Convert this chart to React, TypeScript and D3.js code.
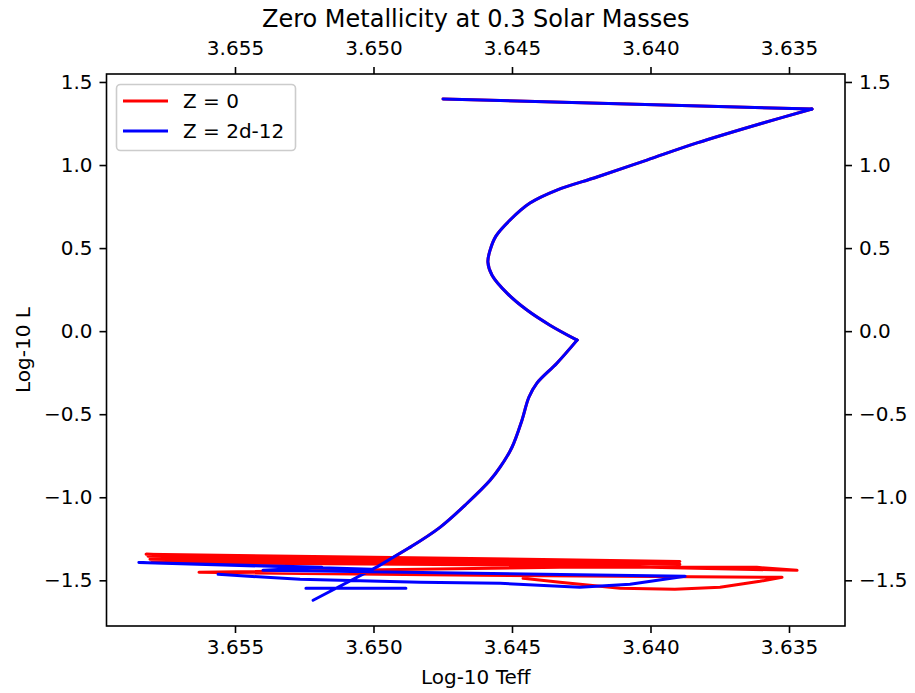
import React, { useEffect, useRef } from "react";
import * as d3 from "d3";

// shared pre-main-sequence descent (the Z = 0 track sits right under the blue one here)
const trackTeff = [3.64749, 3.63417, 3.63594, 3.63832, 3.64013, 3.64193, 3.64338, 3.64435, 3.64507, 3.64558, 3.64579, 3.64587, 3.64572, 3.64518, 3.64446, 3.64363, 3.64265, 3.64338, 3.6441, 3.64439, 3.64464, 3.645, 3.64543, 3.64579, 3.64662, 3.6476, 3.64868];
const trackLogL = [1.398, 1.337, 1.253, 1.133, 1.03, 0.928, 0.849, 0.771, 0.669, 0.572, 0.488, 0.416, 0.337, 0.229, 0.127, 0.036, -0.054, -0.193, -0.313, -0.398, -0.536, -0.699, -0.819, -0.898, -1.036, -1.181, -1.301];
// indexes where the track turns sharply (top tip, the kink near L = 0)
const trackCorners = [0, 1, 16, 26];

// Z = 0 wiggles near the main sequence
const z0TailTeff = [3.64958, 3.65821, 3.63894, 3.65814, 3.63894, 3.65807, 3.64182, 3.658, 3.64327, 3.63471, 3.63616, 3.64327, 3.6563, 3.64616, 3.63525, 3.63605, 3.63749, 3.63912, 3.6411, 3.64327, 3.6446];
const z0TailLogL = [-1.392, -1.343, -1.386, -1.355, -1.404, -1.373, -1.41, -1.392, -1.41, -1.44, -1.422, -1.422, -1.452, -1.47, -1.482, -1.506, -1.542, -1.554, -1.548, -1.512, -1.488];

// Z = 2d-12 bottom part
const z2TailTeff = [3.64984, 3.65218, 3.65135, 3.65244, 3.64883, 3.65135, 3.65005, 3.65847, 3.65186, 3.65399, 3.63875, 3.64074, 3.64255, 3.64543, 3.64832, 3.65265, 3.65561];
const z2TailLogL = [-1.416, -1.62, -1.548, -1.548, -1.548, -1.548, -1.434, -1.392, -1.422, -1.44, -1.476, -1.524, -1.542, -1.518, -1.512, -1.494, -1.464];

const xTicks = [3.655, 3.65, 3.645, 3.64, 3.635];
const yTicks = [-1.5, -1.0, -0.5, 0.0, 0.5, 1.0, 1.5];
const seriesNames = ["Z = 0", "Z = 2d-12"];
const seriesColors = ["#ff0000", "#0000ff"];

const W = 915;
const H = 693;
const FONT = "DejaVu Sans, sans-serif";

const App = () => {
  const svgRef = useRef<SVGSVGElement>(null);

  useEffect(() => {
    const svg = d3.select(svgRef.current);
    svg.selectAll("*").remove();

    const left = 106.5, right = 845, top = 74, bottom = 626;
    const x = d3.scaleLinear().domain([3.659639, 3.632978]).range([left, right]);
    const y = d3.scaleLinear().domain([-1.775, 1.548]).range([bottom, top]);

    const track = trackTeff.map((t, i) => [t, trackLogL[i]]);
    const tails = [
      z0TailTeff.map((t, i) => [t, z0TailLogL[i]]),
      z2TailTeff.map((t, i) => [t, z2TailLogL[i]]),
    ];

    const smooth = d3.line<number[]>().x((d) => x(d[0])).y((d) => y(d[1])).curve(d3.curveCatmullRom.alpha(0.5));
    const straight = d3.line<number[]>().x((d) => x(d[0])).y((d) => y(d[1]));

    seriesColors.forEach((color, s) => {
      const g = svg.append("g")
        .attr("fill", "none")
        .attr("stroke", color)
        .attr("stroke-width", 3)
        .attr("stroke-linejoin", "round")
        .attr("stroke-linecap", "round");
      // the smooth stretches of the descent between the corners
      for (let k = 0; k < trackCorners.length - 1; k++) {
        const a = trackCorners[k], b = trackCorners[k + 1];
        const part = track.slice(a, b + 1);
        g.append("path").attr("d", part.length > 2 ? smooth(part) : straight(part));
      }
      // jagged part near the main sequence
      g.append("path").attr("d", straight([track[track.length - 1], ...tails[s]]));
    });

    const styleAxis = (g) => {
      g.select(".domain").remove();
      g.selectAll(".tick line").attr("stroke", "#000").attr("stroke-width", 1.6);
      g.selectAll(".tick text").attr("fill", "#000").style("font-family", FONT).style("font-size", "20px");
    };

    const fx = d3.format(".3f");
    const fy = d3.format(".1f");

    svg.append("g").attr("transform", `translate(0,${bottom})`)
      .call(d3.axisBottom(x).tickValues(xTicks).tickFormat(fx).tickSize(7).tickPadding(7))
      .call(styleAxis);
    svg.append("g").attr("transform", `translate(0,${top})`)
      .call(d3.axisTop(x).tickValues(xTicks).tickFormat(fx).tickSize(7).tickPadding(7))
      .call(styleAxis)
      .selectAll(".tick text").attr("dy", "-0.24em");
    svg.append("g").attr("transform", `translate(${left},0)`)
      .call(d3.axisLeft(y).tickValues(yTicks).tickFormat(fy).tickSize(7).tickPadding(7))
      .call(styleAxis);
    svg.append("g").attr("transform", `translate(${right},0)`)
      .call(d3.axisRight(y).tickValues(yTicks).tickFormat(fy).tickSize(7).tickPadding(7))
      .call(styleAxis);

    svg.append("rect")
      .attr("x", left).attr("y", top)
      .attr("width", right - left).attr("height", bottom - top)
      .attr("fill", "none").attr("stroke", "#000").attr("stroke-width", 1.6);

    // titles
    svg.append("text")
      .attr("x", (left + right) / 2).attr("y", 27)
      .attr("text-anchor", "middle")
      .style("font-family", FONT).style("font-size", "24px")
      .text("Zero Metallicity at 0.3 Solar Masses");
    svg.append("text")
      .attr("x", (left + right) / 2).attr("y", 684)
      .attr("text-anchor", "middle")
      .style("font-family", FONT).style("font-size", "20px")
      .text("Log-10 Teff");
    svg.append("text")
      .attr("transform", `translate(29.5,${(top + bottom) / 2}) rotate(-90)`)
      .attr("text-anchor", "middle")
      .style("font-family", FONT).style("font-size", "20px")
      .text("Log-10 L");

    // legend
    const lg = svg.append("g");
    lg.append("rect")
      .attr("x", 116.5).attr("y", 84.5).attr("width", 179).attr("height", 66)
      .attr("rx", 4).attr("fill", "#fff").attr("fill-opacity", 0.8)
      .attr("stroke", "#cccccc").attr("stroke-width", 1.6);
    seriesNames.forEach((name, i) => {
      const cy = 101 + i * 30;
      lg.append("line")
        .attr("x1", 124.5).attr("x2", 166.5).attr("y1", cy).attr("y2", cy)
        .attr("stroke", seriesColors[i]).attr("stroke-width", 3).attr("stroke-linecap", "square");
      lg.append("text")
        .attr("x", 183).attr("y", cy + 7.3)
        .style("font-family", FONT).style("font-size", "20px")
        .text(name);
    });
  }, []);

  return (
    <svg
      ref={svgRef}
      width={W}
      height={H}
      style={{ position: "absolute", left: 0, top: 0, background: "#fff", display: "block" }}
    ></svg>
  );
};

export default App;
